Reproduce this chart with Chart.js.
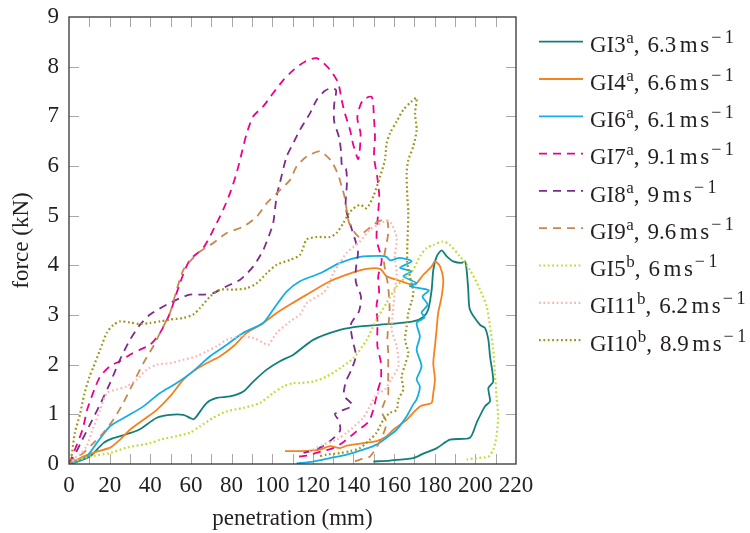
<!DOCTYPE html>
<html>
<head>
<meta charset="utf-8">
<script src="https://cdn.jsdelivr.net/npm/chart.js@4.4.1/dist/chart.umd.min.js"></script>
<style>
  body { margin: 0; background: #fff; }
</style>
</head>
<body>
<canvas id="forceChart" width="750" height="533"></canvas>
<script>
// penetration (mm) / force (kN), one loop per test
const gi3X = [0, 2.1, 10.3, 16.9, 21.8, 30.0, 34.9, 43.2, 49.7, 56.3, 59.5, 61.2, 62.8, 67.8, 72.7, 79.2, 85.8, 90.7, 97.3, 103.8, 110.4, 120.2, 133.4, 143.2, 158.0, 169.4, 174.4, 176.8, 178.5, 179.3, 181.0, 183.4, 185.9, 189.1, 193.2, 194.9, 195.7, 196.5, 197.3, 202.3, 204.7, 206.4, 207.2, 208.8, 206.4, 207.2, 204.7, 200.6, 197.3, 187.5, 181.0, 174.4, 169.4, 158.0, 149.8];
const gi3Y = [0, 0.02, 0.15, 0.42, 0.52, 0.62, 0.70, 0.93, 0.99, 0.99, 0.93, 0.90, 0.96, 1.23, 1.33, 1.36, 1.46, 1.66, 1.90, 2.07, 2.20, 2.50, 2.70, 2.77, 2.82, 2.87, 2.96, 3.11, 3.51, 3.91, 4.18, 4.30, 4.18, 4.08, 4.05, 4.08, 3.91, 3.51, 3.11, 2.80, 2.74, 2.50, 2.17, 1.66, 1.53, 1.26, 1.16, 0.83, 0.53, 0.49, 0.32, 0.21, 0.12, 0.07, 0.05];

const gi4X = [0, 7.0, 13.6, 20.2, 25.1, 30.0, 36.6, 43.2, 49.7, 56.3, 61.2, 67.8, 74.3, 80.9, 87.5, 95.6, 102.2, 108.8, 117.0, 128.4, 139.9, 146.5, 153.1, 156.3, 161.3, 166.2, 169.4, 171.1, 174.4, 178.5, 180.1, 182.6, 184.2, 183.4, 181.7, 180.9, 180.1, 179.3, 180.1, 179.3, 178.5, 176.0, 172.7, 169.4, 166.2, 159.6, 156.3, 151.4, 144.8, 136.7, 133.4, 128.4, 123.5, 113.7, 106.3];
const gi4Y = [0, 0.15, 0.25, 0.33, 0.49, 0.69, 0.89, 1.09, 1.36, 1.70, 1.87, 2.03, 2.17, 2.37, 2.64, 2.84, 3.04, 3.21, 3.41, 3.68, 3.86, 3.93, 3.93, 3.78, 3.71, 3.64, 3.61, 3.64, 3.81, 3.98, 4.08, 3.98, 3.71, 3.37, 3.04, 2.70, 2.37, 2.03, 1.70, 1.43, 1.23, 1.20, 1.16, 1.03, 0.89, 0.69, 0.56, 0.46, 0.42, 0.37, 0.32, 0.36, 0.29, 0.26, 0.26];

const gi6X = [0, 2.1, 8.7, 13.6, 20.2, 28.4, 36.6, 44.8, 53.0, 61.2, 69.4, 77.6, 85.8, 95.6, 100.5, 107.1, 113.7, 123.5, 133.4, 143.2, 153.1, 156.3, 158.0, 162.9, 168.6, 162.9, 168.6, 164.6, 171.1, 167.8, 177.0, 174.0, 176.5, 173.5, 175.0, 171.1, 172.7, 171.1, 173.5, 171.1, 172.7, 171.1, 169.4, 166.2, 161.3, 156.3, 151.4, 144.8, 136.7, 128.4, 120.2, 112.0];
const gi6Y = [0, 0.02, 0.15, 0.42, 0.76, 0.96, 1.16, 1.43, 1.63, 1.87, 2.17, 2.40, 2.64, 2.84, 3.11, 3.47, 3.68, 3.84, 4.05, 4.17, 4.19, 4.17, 4.10, 4.15, 4.08, 3.95, 3.88, 3.78, 3.64, 3.58, 3.50, 3.37, 3.21, 3.05, 2.95, 2.84, 2.57, 2.30, 1.97, 1.70, 1.56, 1.30, 1.20, 0.96, 0.69, 0.53, 0.39, 0.29, 0.19, 0.12, 0.05, 0.01];

const gi7X = [0, 3.5, 6.7, 9.0, 12.5, 15.3, 20.2, 25.1, 30.0, 34.9, 39.9, 44.8, 49.7, 54.6, 59.5, 66.1, 72.7, 75.9, 79.2, 82.5, 85.0, 87.5, 90.7, 95.6, 100.5, 105.5, 110.4, 116.1, 121.9, 128.4, 132.5, 134.2, 135.8, 138.3, 139.9, 142.4, 143.5, 141.9, 144.5, 149.0, 150.1, 150.6, 150.1, 151.7, 152.7, 152.2, 151.4, 153.9, 152.2, 152.6, 151.4, 151.8, 151.8, 153.5, 153.5, 151.8, 150.2, 147.6, 141.6, 135.3, 130.0, 124.0, 117.0, 113.0];
const gi7Y = [0, 0.35, 0.70, 1.10, 1.50, 1.76, 1.97, 2.07, 2.20, 2.30, 2.40, 2.64, 3.04, 3.64, 4.11, 4.35, 4.85, 5.12, 5.45, 5.86, 6.26, 6.66, 7.00, 7.20, 7.47, 7.73, 7.93, 8.10, 8.17, 7.94, 7.67, 7.33, 7.06, 6.73, 6.43, 6.14, 6.65, 6.98, 7.32, 7.39, 6.96, 6.56, 6.19, 5.78, 5.40, 5.08, 4.52, 4.11, 3.78, 3.45, 3.21, 2.86, 2.37, 2.04, 1.70, 1.46, 1.16, 0.86, 0.66, 0.45, 0.32, 0.25, 0.17, 0.15];

const gi8X = [0, 3.8, 6.2, 11.1, 15.3, 20.2, 25.1, 30.0, 34.9, 39.9, 46.4, 53.0, 59.5, 66.1, 71.0, 77.6, 84.2, 90.7, 95.6, 98.9, 100.5, 102.2, 103.8, 107.1, 110.4, 113.7, 118.6, 121.9, 125.5, 128.5, 131.4, 130.5, 130.5, 132.9, 133.9, 134.4, 136.3, 136.8, 136.2, 139.0, 142.2, 141.2, 141.2, 143.7, 142.7, 138.8, 139.5, 141.2, 138.8, 136.3, 135.3, 139.5, 130.9, 132.9, 133.4, 129.9, 124.5, 118.1, 113.0];
const gi8Y = [0, 0.26, 0.46, 0.86, 1.20, 1.63, 2.10, 2.50, 2.80, 3.01, 3.17, 3.31, 3.41, 3.41, 3.44, 3.58, 3.71, 3.98, 4.31, 4.65, 4.85, 5.39, 5.66, 6.19, 6.46, 6.73, 7.06, 7.33, 7.50, 7.56, 7.53, 7.23, 6.90, 6.58, 6.29, 5.99, 5.94, 5.68, 5.16, 4.75, 4.29, 3.93, 3.66, 3.37, 3.07, 2.82, 2.50, 2.18, 1.88, 1.66, 1.38, 1.18, 1.01, 0.87, 0.67, 0.51, 0.35, 0.25, 0.20];

const gi9X = [0, 2.1, 7.0, 12.0, 16.9, 21.8, 26.7, 31.6, 36.6, 41.5, 44.8, 49.7, 53.0, 56.3, 59.5, 64.5, 71.0, 77.6, 85.8, 92.4, 97.3, 102.2, 108.8, 112.0, 117.0, 123.5, 126.0, 129.3, 132.5, 134.2, 135.8, 137.9, 142.4, 144.8, 151.4, 156.3, 157.1, 155.0, 157.0, 157.8, 156.7, 157.1, 157.1, 157.1, 157.1, 156.3, 153.9, 156.3, 153.1, 148.1, 143.2, 139.1];
const gi9Y = [0, 0.09, 0.22, 0.42, 0.63, 0.89, 1.23, 1.63, 2.03, 2.37, 2.64, 3.04, 3.51, 3.91, 4.08, 4.28, 4.45, 4.65, 4.78, 4.98, 5.25, 5.45, 5.72, 5.99, 6.19, 6.30, 6.23, 6.09, 5.82, 5.59, 5.35, 4.85, 4.58, 4.65, 4.86, 4.93, 4.65, 4.10, 3.60, 3.10, 2.54, 2.24, 1.94, 1.66, 1.40, 1.35, 1.06, 0.83, 0.46, 0.15, 0.09, 0.03];

const gi5X = [0, 2.1, 10.3, 20.2, 28.4, 39.9, 44.8, 53.0, 59.5, 64.5, 71.0, 77.6, 85.8, 94.0, 100.5, 105.5, 110.4, 113.7, 120.2, 126.8, 133.4, 139.9, 146.5, 151.4, 156.3, 161.3, 166.2, 169.4, 172.7, 176.0, 179.3, 184.2, 187.5, 192.4, 197.3, 202.3, 205.6, 207.2, 208.8, 209.6, 210.4, 211.2, 210.4, 208.8, 206.4, 200.6, 195.7];
const gi5Y = [0, 0.05, 0.15, 0.22, 0.33, 0.42, 0.49, 0.56, 0.63, 0.76, 0.93, 1.06, 1.13, 1.23, 1.43, 1.56, 1.63, 1.63, 1.66, 1.76, 1.93, 2.13, 2.50, 2.91, 3.24, 3.58, 3.78, 3.91, 4.18, 4.35, 4.41, 4.48, 4.41, 4.18, 3.91, 3.51, 3.17, 2.77, 2.30, 1.83, 1.36, 0.96, 0.56, 0.29, 0.15, 0.12, 0.09];

const gi11X = [0, 3.8, 5.4, 8.7, 11.1, 15.3, 18.6, 23.5, 28.4, 33.3, 38.2, 43.2, 49.7, 56.3, 62.8, 67.8, 72.7, 77.6, 84.2, 90.7, 95.6, 98.1, 102.2, 108.8, 113.7, 117.0, 125.2, 127.6, 130.1, 133.4, 136.6, 143.2, 148.1, 151.4, 156.3, 158.5, 161.3, 160.4, 161.3, 160.4, 159.4, 158.8, 161.3, 162.1, 158.8, 155.5, 151.4, 148.1, 144.8, 136.7, 131.7, 125.2, 120.2, 117.0];
const gi11Y = [0, 0.15, 0.19, 0.36, 0.63, 1.09, 1.43, 1.50, 1.56, 1.70, 1.90, 2.00, 2.03, 2.10, 2.17, 2.27, 2.37, 2.50, 2.57, 2.54, 2.44, 2.40, 2.64, 2.87, 3.01, 3.24, 3.45, 3.58, 3.84, 4.05, 4.25, 4.48, 4.72, 4.80, 4.90, 4.85, 4.55, 4.18, 3.84, 3.51, 3.05, 2.70, 2.37, 1.97, 1.72, 1.50, 1.40, 1.16, 0.93, 0.63, 0.49, 0.39, 0.29, 0.22];

const gi10X = [0, 1.0, 2.9, 5.4, 7.5, 10.0, 12.0, 15.3, 18.6, 21.8, 25.1, 30.0, 34.9, 39.9, 44.8, 49.7, 56.3, 61.2, 64.5, 69.4, 74.3, 80.9, 87.5, 92.4, 97.3, 102.2, 108.8, 113.7, 117.0, 121.9, 128.4, 131.7, 135.0, 138.3, 143.2, 146.5, 149.8, 153.1, 155.5, 156.3, 158.0, 161.3, 164.5, 168.6, 171.1, 170.3, 171.1, 169.4, 167.0, 166.2, 166.5, 167.0, 166.5, 166.5, 167.8, 169.5, 168.6, 167.0, 166.2, 165.4, 167.0, 165.4, 163.7, 164.5, 162.1, 161.3, 158.0, 154.7, 151.4, 148.1, 143.2, 138.3, 133.4, 126.8, 122.7];
const gi10Y = [0, 0.10, 0.63, 1.00, 1.40, 1.75, 1.95, 2.30, 2.64, 2.80, 2.87, 2.85, 2.82, 2.84, 2.87, 2.91, 2.94, 3.01, 3.14, 3.37, 3.51, 3.51, 3.54, 3.64, 3.84, 4.01, 4.11, 4.21, 4.52, 4.57, 4.57, 4.65, 4.85, 5.08, 5.22, 5.15, 5.39, 5.79, 6.12, 6.45, 6.66, 6.90, 7.13, 7.30, 7.37, 7.06, 6.73, 6.39, 6.12, 5.86, 5.40, 5.05, 4.38, 4.05, 3.78, 3.45, 3.27, 3.04, 2.77, 2.50, 2.24, 2.00, 1.76, 1.50, 1.30, 1.09, 1.03, 0.89, 0.63, 0.49, 0.32, 0.26, 0.22, 0.19, 0.15];

// legend text pieces: name, superscript mark, impact speed
const seriesIds = ['GI3', 'GI4', 'GI6', 'GI7', 'GI8', 'GI9', 'GI5', 'GI11', 'GI10'];
const seriesMarks = ['a', 'a', 'a', 'a', 'a', 'a', 'b', 'b', 'b'];
const seriesSpeeds = ['6.3', '6.6', '6.1', '9.1', '9', '9.6', '6', '6.2', '8.9'];
const seriesX = [gi3X, gi4X, gi6X, gi7X, gi8X, gi9X, gi5X, gi11X, gi10X];
const seriesY = [gi3Y, gi4Y, gi6Y, gi7Y, gi8Y, gi9Y, gi5Y, gi11Y, gi10Y];

const colors = ['#127f79', '#f5821f', '#13aee6', '#ec008c', '#7d2b8b', '#c8874c', '#c3d935', '#f8b8b6', '#9c9517'];
const dashes = [[], [], [], [8, 6], [8, 6], [8, 6], [1.8, 2.6], [1.8, 2.6], [1.8, 2.6]];

const serif = "'Liberation Serif', 'DejaVu Serif', serif";
const textColor = '#231f20';

// inward ticks on all four sides plus the box
const frame = {
    id: 'frame',
    beforeDatasetsDraw(chart) {
        const {ctx, chartArea: a, scales: {x, y}} = chart;
        ctx.save();
        ctx.strokeStyle = '#a8a8a8';
        ctx.lineWidth = 1;
        ctx.beginPath();
        for (let v = x.min + 10; v < x.max; v += 10) {
            const px = Math.round(x.getPixelForValue(v)) + 0.5;
            ctx.moveTo(px, a.bottom); ctx.lineTo(px, a.bottom - 10);
            ctx.moveTo(px, a.top); ctx.lineTo(px, a.top + 10);
        }
        y.ticks.forEach(t => {
            if (t.value <= y.min || t.value >= y.max) return;
            const py = Math.round(y.getPixelForValue(t.value)) + 0.5;
            ctx.moveTo(a.left, py); ctx.lineTo(a.left + 10, py);
            ctx.moveTo(a.right, py); ctx.lineTo(a.right - 10, py);
        });
        ctx.stroke();
        ctx.restore();
    },
    afterDatasetsDraw(chart) {
        const {ctx, chartArea: a} = chart;
        ctx.save();
        ctx.strokeStyle = '#333';
        ctx.lineWidth = 1.3;
        ctx.strokeRect(a.left, a.top, a.width, a.height);
        ctx.restore();
    }
};

// legend to the right of the plot, with real superscripts
const sideLegend = {
    id: 'sideLegend',
    afterDraw(chart) {
        const {ctx, chartArea: a} = chart;
        const x0 = a.right + 23;
        ctx.save();
        chart.data.datasets.forEach((ds, i) => {
            const yc = a.top + 24.7 + 37.3 * i;
            ctx.strokeStyle = ds.borderColor;
            ctx.lineWidth = ds.borderWidth;
            ctx.setLineDash(ds.borderDash);
            ctx.beginPath();
            ctx.moveTo(x0, yc);
            ctx.lineTo(x0 + 44, yc);
            ctx.stroke();
            ctx.setLineDash([]);

            const base = yc + 10.6;
            let tx = x0 + 51;
            ctx.fillStyle = textColor;
            ctx.textBaseline = 'alphabetic';
            const put = (s, size, rise) => {
                ctx.font = size + 'px ' + serif;
                ctx.fillText(s, tx, base - rise);
                tx += ctx.measureText(s).width;
            };
            put(seriesIds[i], 23, 0);
            tx += 0.5;
            put(seriesMarks[i], 17, 9);
            put(',', 23, 0);
            tx += 8;
            put(seriesSpeeds[i], 23, 0);
            tx += 3.5;
            put('m', 23, 0);
            tx += 2.5;
            put('s', 23, 0);
            tx += 2;
            put('\u2212', 18, 9);
            tx += 3.5;
            put('1', 18, 9);
        });
        ctx.restore();
    }
};

const ctx = document.getElementById('forceChart');
const chart = new Chart(ctx, {
    type: 'scatter',
    data: {
        datasets: seriesIds.map((name, i) => ({
            label: name,
            data: seriesX[i].map((v, k) => ({x: v, y: seriesY[i][k]})),
            showLine: true,
            borderColor: colors[i],
            backgroundColor: colors[i],
            borderDash: dashes[i],
            borderWidth: i > 5 ? 2.2 : 1.8,
            pointRadius: 0,
            tension: 0.25,
            fill: false,
            order: 9 - i
        }))
    },
    options: {
        responsive: false,
        animation: false,
        devicePixelRatio: 1,
        layout: {padding: {left: 4, top: 17, right: 234, bottom: 0}},
        plugins: {
            legend: {display: false},
            tooltip: {enabled: false}
        },
        scales: {
            x: {
                type: 'linear',
                min: 0,
                max: 220,
                afterFit: s => { s.height = 69; },
                grid: {display: false, drawTicks: false},
                border: {display: false},
                ticks: {stepSize: 20, autoSkip: false, maxRotation: 0, padding: 8, color: textColor, font: {family: serif, size: 23}},
                title: {display: true, text: 'penetration (mm)', color: textColor, font: {family: serif, size: 23}, padding: {top: 5, bottom: 0}}
            },
            y: {
                min: 0,
                max: 9,
                afterFit: s => { s.width = 65; s.paddingTop = 0; s.paddingBottom = 0; },
                grid: {display: false, drawTicks: false},
                border: {display: false},
                ticks: {stepSize: 1, padding: 10, color: textColor, font: {family: serif, size: 23}},
                title: {display: true, text: 'force (kN)', color: textColor, font: {family: serif, size: 23}, padding: {top: 4, bottom: 12}}
            }
        }
    },
    plugins: [frame, sideLegend]
});
</script>
</body>
</html>
